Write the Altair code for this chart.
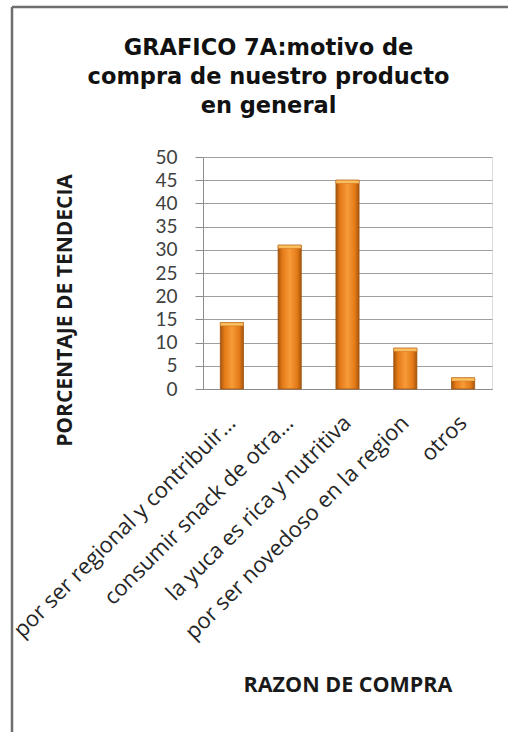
import altair as alt
import pandas as pd

# Purchase reasons (truncated as on the axis) and their share in percent
reasons = [
    "por ser regional y contribuir…",
    "consumir snack de otra…",
    "la yuca es rica y nutritiva",
    "por ser novedoso en la region",
    "otros",
]
percent = [14.3, 31.0, 45.0, 8.8, 2.4]
y_ticks = [0, 5, 10, 15, 20, 25, 30, 35, 40, 45, 50]

df = pd.DataFrame({"razon": reasons, "pct": percent})

W, H = 289, 232

bar_fill = alt.Gradient(
    gradient="linear",
    x1=0, x2=1, y1=0, y2=0,
    stops=[
        alt.GradientStop(color="#a8560c", offset=0),
        alt.GradientStop(color="#e47a18", offset=0.18),
        alt.GradientStop(color="#f79a38", offset=0.5),
        alt.GradientStop(color="#e47a18", offset=0.82),
        alt.GradientStop(color="#a8560c", offset=1),
    ],
)

x_enc = alt.X(
    "razon:N",
    sort=reasons,
    scale=alt.Scale(paddingInner=0.6, paddingOuter=0.3),
    axis=alt.Axis(
        title="RAZON DE COMPRA",
        titleFont="Open Sans",
        titleFontWeight="bold",
        titleFontSize=21.5,
        titleColor="#1a1a1a",
        titleY=296,
        titleBaseline="middle",
        labelAngle=315,
        labelAlign="right",
        labelBaseline="middle",
        labelPadding=30,
        labelFont="Open Sans",
        labelFontSize=22,
        labelColor="#262626",
        labelLimit=0,
        labelOverlap=False,
        ticks=False,
        domainColor="#8c8c8c",
        grid=False,
    ),
)

y_enc = alt.Y(
    "pct:Q",
    scale=alt.Scale(domain=[0, 50], nice=False),
    axis=alt.Axis(
        title="PORCENTAJE DE TENDECIA",
        titleFont="Open Sans",
        titleFontWeight="bold",
        titleFontSize=21,
        titleColor="#1a1a1a",
        titleAngle=270,
        titleX=-138,
        titleY=153,
        titleAlign="center",
        titleBaseline="middle",
        values=y_ticks,
        labelOverlap=False,
        labelFont="Lato",
        labelFontSize=19,
        labelColor="#404040",
        labelPadding=18,
        tickSize=8,
        tickColor="#8c8c8c",
        domainColor="#8c8c8c",
        gridColor="#a0a0a0",
        gridWidth=1,
    ),
)

bars = alt.Chart(df).mark_bar(
    color=bar_fill, stroke="#9a500c", strokeWidth=0.8
).encode(x=x_enc, y=y_enc)

# lighter cap on top of each bar
caps = (
    alt.Chart(df)
    .transform_calculate(cap_base="datum.pct - 0.7")
    .mark_bar(color="#fbc060", stroke="#c8701a", strokeWidth=0.5)
    .encode(x=x_enc, y=y_enc, y2="cap_base:Q")
)

# frame lines along the top and left edges of the page
frame_df = pd.DataFrame({"k": [0]})
top_line = alt.Chart(frame_df).mark_rule(color="#6e6e6e", strokeWidth=2.5).encode(
    x=alt.value(-191), x2=alt.value(305), y=alt.value(-150)
)
left_line = alt.Chart(frame_df).mark_rule(color="#6e6e6e", strokeWidth=2.5).encode(
    x=alt.value(-191), y=alt.value(-150), y2=alt.value(575)
)

chart = (
    alt.layer(bars, caps, top_line, left_line)
    .properties(
        width=W,
        height=H,
        padding={"left": 203, "top": 157, "right": 16, "bottom": 343},
        autosize=alt.AutoSizeParams(type="none"),
        title=alt.TitleParams(
            text=["GRAFICO 7A:motivo de", "compra de nuestro producto", "en general"],
            font="DejaVu Sans",
            fontWeight="bold",
            fontSize=22.5,
            lineHeight=29,
            color="#111111",
            anchor="middle",
            baseline="bottom",
            dx=-79,
            offset=-135,
        ),
    )
    .configure_view(stroke=None)
    .configure(background="white")
)

chart.save("out.html", embed_options={"renderer": "svg", "actions": False})
